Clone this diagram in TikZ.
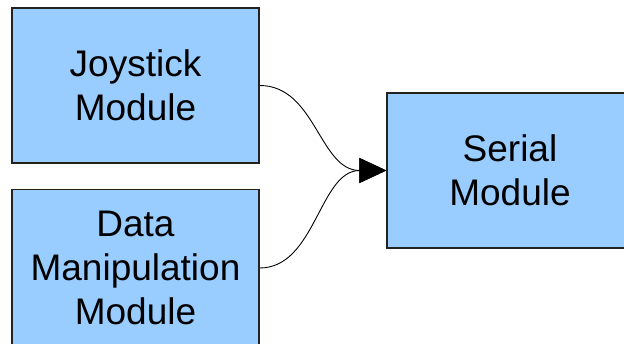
\documentclass[tikz,border=0pt]{standalone}
\usepackage{fontspec}
\setmainfont{Liberation Sans}
\usetikzlibrary{arrows.meta}
\definecolor{boxfill}{HTML}{99CCFF}
\definecolor{boxline}{HTML}{222222}
\begin{document}
\begin{tikzpicture}[x=1pt,y=-1pt,
  modbox/.style={draw=boxline,line width=1.3pt,fill=boxfill,inner sep=0pt,
    align=center,font=\fontsize{37}{44}\selectfont},
  link/.style={line width=0.9pt,-{Triangle[length=27pt,width=25pt]}}]
\useasboundingbox (0,0) rectangle (624,344);
\clip (0,0) rectangle (624,344);
\node[modbox,minimum width=247pt,minimum height=155pt] (joy) at (135.5,85.5) {Joystick\\Module};
\node[modbox,minimum width=247pt,minimum height=157pt] (data) at (135.5,268) {Data\\Manipulation\\Module};
\node[modbox,minimum width=246pt,minimum height=155pt] (ser) at (510,170.5) {Serial\\Module};
\draw[link] (joy.east) .. controls +(56,0) and +(-67,0) .. (ser.west);
\draw[link] (data.east) .. controls +(56,0) and +(-67,0) .. (ser.west);
\end{tikzpicture}
\end{document}
